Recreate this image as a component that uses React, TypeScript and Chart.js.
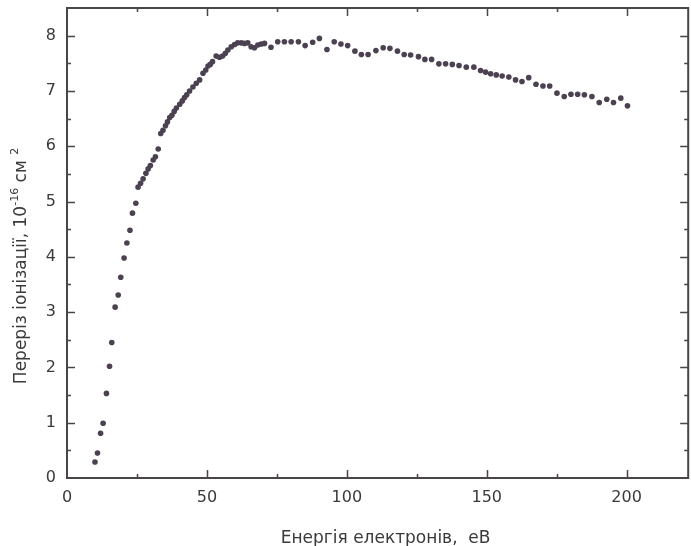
import React, { useEffect, useRef } from "react";
import { Chart, registerables } from "chart.js";

Chart.register(...registerables);

// Electron energy, eV
const energy = [
  10.0, 10.9, 12.0, 12.9, 14.1, 15.2, 16.0, 17.2, 18.3, 19.2,
  20.4, 21.4, 22.5, 23.4, 24.6, 25.4, 26.3, 27.2, 28.2, 29.0,
  29.8, 30.8, 31.6, 32.6, 33.5, 34.3, 35.2, 35.9, 36.7, 37.5,
  38.3, 39.1, 40.3, 41.2, 42.0, 42.8, 43.8, 45.0, 46.2, 47.4,
  48.6, 49.6, 50.4, 51.2, 52.0, 53.3, 54.5, 55.6, 56.6, 57.5,
  58.7, 59.9, 61.0, 62.3, 63.4, 64.6, 65.8, 67.0, 68.2, 69.4,
  70.6, 72.9, 75.3, 77.7, 80.1, 82.7, 85.1, 87.8, 90.2, 92.9,
  95.5, 97.9, 100.3, 102.9, 105.2, 107.6, 110.4, 113.0, 115.4, 118.1,
  120.5, 122.8, 125.6, 127.9, 130.3, 132.9, 135.3, 137.7, 140.1, 142.7,
  145.4, 147.8, 149.6, 151.4, 153.4, 155.5, 157.9, 160.3, 162.6, 165.0,
  167.6, 170.1, 172.5, 175.1, 177.7, 180.1, 182.5, 184.9, 187.6, 190.2,
  192.9, 195.3, 197.9, 200.3,
];

// Ionization cross-section, 10^-16 cm^2
const crossSection = [
  0.29, 0.45, 0.81, 0.99, 1.53, 2.02, 2.45, 3.09, 3.31, 3.63,
  3.98, 4.25, 4.48, 4.79, 4.97, 5.26, 5.33, 5.41, 5.51, 5.59,
  5.65, 5.75, 5.81, 5.95, 6.23, 6.29, 6.37, 6.44, 6.52, 6.56,
  6.63, 6.69, 6.76, 6.82, 6.88, 6.93, 7.00, 7.07, 7.14, 7.20,
  7.32, 7.38, 7.45, 7.48, 7.53, 7.63, 7.61, 7.63, 7.68, 7.74,
  7.80, 7.84, 7.87, 7.87, 7.86, 7.87, 7.80, 7.78, 7.83, 7.85,
  7.86, 7.79, 7.89, 7.89, 7.89, 7.89, 7.82, 7.88, 7.95, 7.75,
  7.89, 7.85, 7.82, 7.72, 7.66, 7.66, 7.73, 7.78, 7.77, 7.72,
  7.66, 7.65, 7.62, 7.57, 7.57, 7.49, 7.49, 7.48, 7.46, 7.43,
  7.43, 7.37, 7.34, 7.31, 7.29, 7.27, 7.25, 7.20, 7.17, 7.24,
  7.12, 7.09, 7.09, 6.96, 6.90, 6.94, 6.94, 6.93, 6.90, 6.79,
  6.85, 6.79, 6.87, 6.73,
];

const xTickLabels = [0, 50, 100, 150, 200];
const yTickLabels = [0, 1, 2, 3, 4, 5, 6, 7, 8];
const xTitle = "Енергія електронів,  еВ";
const yTitleMain = "Переріз іонізації, 10";
const yTitleExp = "-16";
const yTitleUnit = " см ";
const yTitleUnitExp = "2";

const FONT = "'DejaVu Sans', Arial, sans-serif";
const TEXT_COLOR = "#3a3a3a";
const AXIS_COLOR = "#4a4548";
const POINT_COLOR = "#4b4150";

const framePlugin = {
  id: "frameAndTicks",
  afterDatasetsDraw(chart: any) {
    const { ctx, chartArea: a, scales } = chart;
    const x = scales.x;
    const y = scales.y;
    ctx.save();
    ctx.strokeStyle = AXIS_COLOR;
    ctx.lineWidth = 2;
    ctx.strokeRect(a.left, a.top, a.right - a.left, a.bottom - a.top);
    ctx.lineWidth = 1.5;
    ctx.beginPath();
    x.ticks.forEach((t: any) => {
      const v = t.value;
      if (Math.abs(v / 25 - Math.round(v / 25)) > 1e-6) return;
      if (v <= x.min || v >= x.max) return;
      const major = Math.abs(v / 50 - Math.round(v / 50)) < 1e-6;
      const len = major ? 8 : 4;
      const px = Math.round(x.getPixelForValue(v)) + 0.5;
      ctx.moveTo(px, a.bottom);
      ctx.lineTo(px, a.bottom - len);
      ctx.moveTo(px, a.top);
      ctx.lineTo(px, a.top + len);
    });
    y.ticks.forEach((t: any) => {
      const v = t.value;
      if (v <= y.min || v >= y.max) return;
      const major = Number.isInteger(v);
      const len = major ? 8 : 4;
      const py = Math.round(y.getPixelForValue(v)) + 0.5;
      ctx.moveTo(a.left, py);
      ctx.lineTo(a.left + len, py);
      ctx.moveTo(a.right, py);
      ctx.lineTo(a.right - len, py);
    });
    ctx.stroke();
    ctx.restore();
  },
  afterDraw(chart: any) {
    const { ctx, chartArea: a } = chart;
    ctx.save();
    ctx.fillStyle = TEXT_COLOR;
    // X title
    ctx.font = `17px ${FONT}`;
    ctx.textAlign = "center";
    ctx.textBaseline = "alphabetic";
    ctx.fillText(xTitle, (a.left + a.right) / 2 + 8, a.bottom + 65);
    // Y title (rotated, with superscripts)
    const mainFont = `17px ${FONT}`;
    const supFont = `11px ${FONT}`;
    const segs = [
      { t: yTitleMain, f: mainFont, dy: 0 },
      { t: yTitleExp, f: supFont, dy: -7 },
      { t: yTitleUnit, f: mainFont, dy: 0 },
      { t: yTitleUnitExp, f: supFont, dy: -7 },
    ];
    let total = 0;
    segs.forEach((s) => {
      ctx.font = s.f;
      total += ctx.measureText(s.t).width;
    });
    ctx.translate(a.left - 45, (a.top + a.bottom) / 2 + 23);
    ctx.rotate(-Math.PI / 2);
    ctx.textAlign = "left";
    ctx.textBaseline = "middle";
    let cx = -total / 2;
    segs.forEach((s) => {
      ctx.font = s.f;
      ctx.fillText(s.t, cx, s.dy);
      cx += ctx.measureText(s.t).width;
    });
    ctx.restore();
  },
};

export default function App() {
  const ref = useRef<HTMLCanvasElement | null>(null);

  useEffect(() => {
    if (!ref.current) return;
    const points = energy.map((e, i) => ({ x: e, y: crossSection[i] }));
    const chart = new Chart(ref.current, {
      type: "scatter",
      data: {
        datasets: [
          {
            data: points,
            backgroundColor: POINT_COLOR,
            borderWidth: 0,
            pointRadius: 2.8,
            pointHoverRadius: 2.8,
          },
        ],
      },
      options: {
        animation: false,
        responsive: false,
        events: [],
        layout: { padding: { top: 8, right: 1, left: 0, bottom: 0 } },
        plugins: {
          legend: { display: false },
          tooltip: { enabled: false },
          title: { display: false },
        },
        scales: {
          x: {
            type: "linear",
            min: 0,
            max: 222,
            grid: { display: false, drawTicks: false },
            border: { display: false },
            ticks: {
              stepSize: 25,
              autoSkip: false,
              maxRotation: 0,
              includeBounds: false,
              padding: 10,
              color: TEXT_COLOR,
              font: { family: FONT, size: 16 },
              callback: (v: any) => (xTickLabels.includes(Number(v)) ? String(v) : ""),
            },
            afterFit: (s: any) => {
              s.height = 68;
              s.paddingLeft = 0;
              s.paddingRight = 0;
            },
          },
          y: {
            type: "linear",
            min: 0,
            max: 8.5,
            grid: { display: false, drawTicks: false },
            border: { display: false },
            ticks: {
              stepSize: 0.5,
              autoSkip: false,
              padding: 11,
              color: TEXT_COLOR,
              font: { family: FONT, size: 16 },
              callback: (v: any) => (yTickLabels.includes(Number(v)) ? String(v) : ""),
            },
            afterFit: (s: any) => {
              s.width = 67;
              s.paddingTop = 0;
              s.paddingBottom = 0;
            },
          },
        },
      },
      plugins: [framePlugin],
    });
    return () => chart.destroy();
  }, []);

  return (
    <div style={{ position: "absolute", left: 0, top: 0, width: 691, height: 546, background: "#ffffff" }}>
      <canvas ref={ref} width={691} height={546} style={{ display: "block" }} />
    </div>
  );
}
